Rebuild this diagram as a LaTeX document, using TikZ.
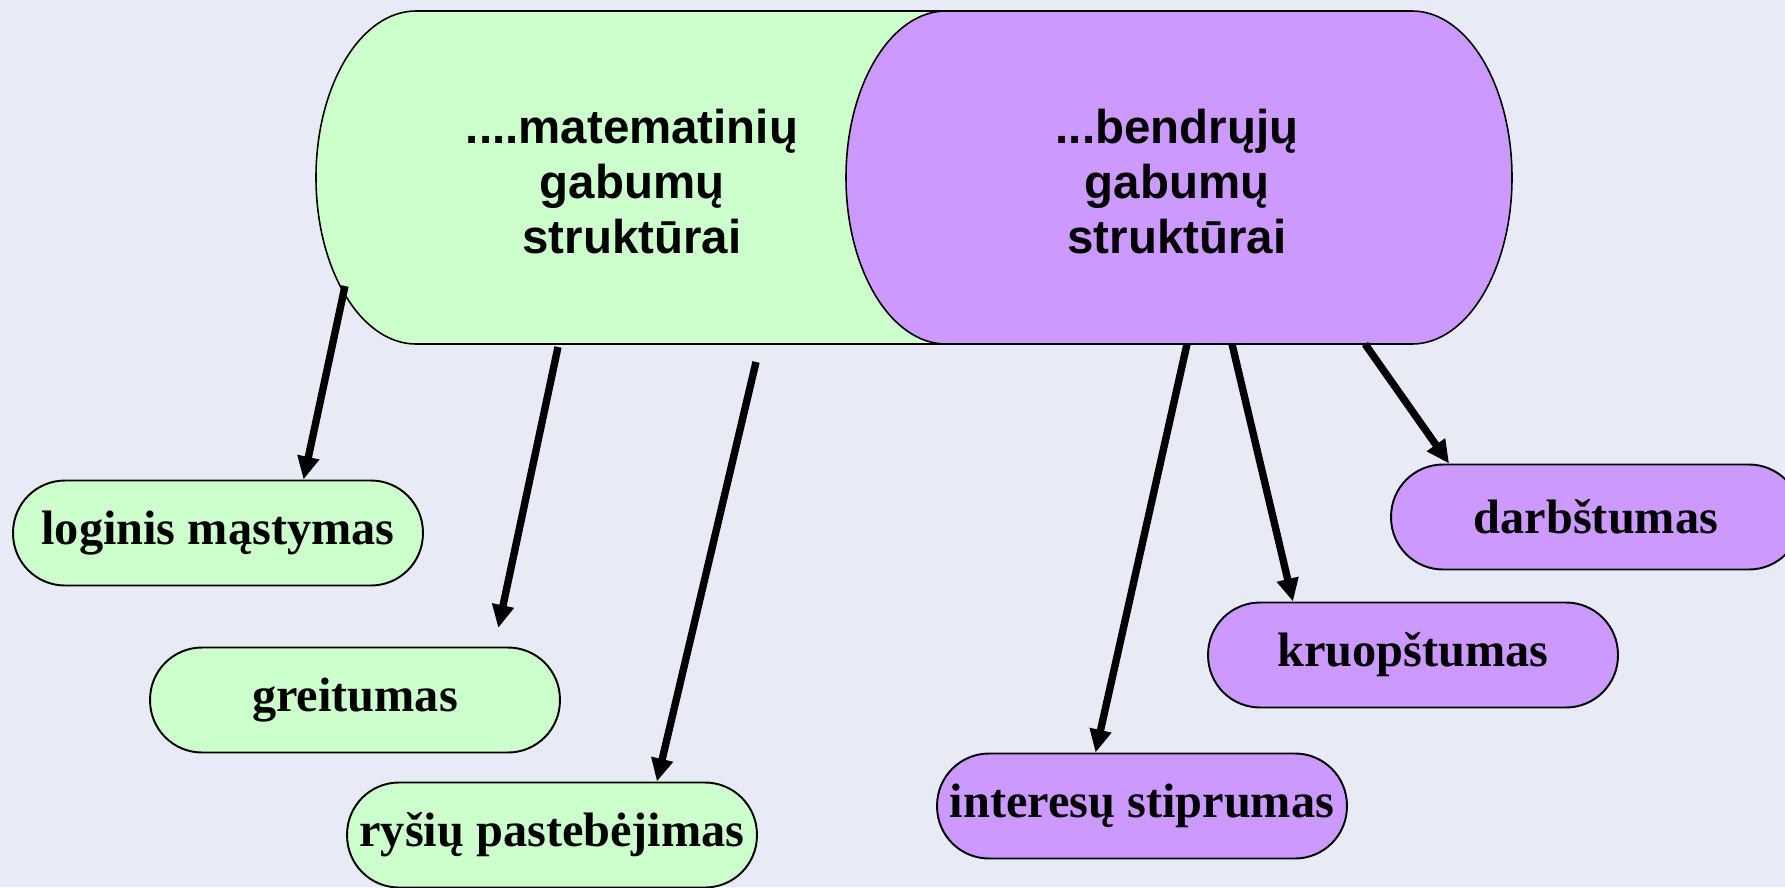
\documentclass[tikz,border=0pt]{standalone}
\usepackage{fontspec}
\setmainfont{Liberation Serif}
\setsansfont{Liberation Sans}
\usetikzlibrary{arrows.meta}
\definecolor{lightgreen}{RGB}{204,255,204}
\definecolor{lilac}{RGB}{204,153,255}
\definecolor{slidebg}{RGB}{232,234,246}

\begin{document}
\begin{tikzpicture}[x=0.02cm,y=-0.02cm]
				\tikzstyle{box} = [rectangle,rounded corners=1.04cm,draw=black,line width=1.1pt,minimum width=8.2cm,minimum height=2.1cm,font=\fontsize{27.5}{31}\selectfont\bfseries]
				\tikzstyle{box2} = [box,fill=lightgreen]
				\tikzstyle{box3} = [box,fill=lilac]
				\tikzstyle{title} = [align=center,font=\fontsize{27}{31.3}\selectfont\sffamily\bfseries]
				\tikzstyle{edge} = [-{Triangle[length=0.46cm,width=0.42cm]},line width=4.2pt]
				\fill[slidebg] (0,0) rectangle (1785,887);
				\useasboundingbox (0,0) rectangle (1785,887);
				\clip (0,0) rectangle (1785,887);
				\draw[fill=lightgreen,line width=0.9pt] (1000,11) -- (416,11) arc[start angle=270,end angle=90,x radius=100,y radius=166.5] -- (1000,344) -- cycle;
				\draw[fill=lilac,line width=0.9pt] (946,11) -- (1412,11) arc[start angle=270,end angle=450,x radius=100,y radius=166.5] -- (946,344) arc[start angle=90,end angle=270,x radius=100,y radius=166.5] -- cycle;
				\node[title] (t1) at (632,182) {....matematinių\\gabumų\\struktūrai};
				\node[title] (t2) at (1177,182) {...bendrųjų\\gabumų\\struktūrai};
				\node[box2] (n1) at (218,533) {loginis mąstymas};
				\node[box2] (n2) at (355,700) {greitumas};
				\node[box2] (n3) at (552,835) {ryšių pastebėjimas};
				\node[box3] (n4) at (1142,806) {interesų stiprumas};
				\node[box3] (n5) at (1413,655) {kruopštumas};
				\node[box3] (n6) at (1596,517) {darbštumas};
				\coordinate (s1) at (345,286);
				\coordinate (s2) at (558,347);
				\coordinate (s3) at (756,362);
				\coordinate (s4) at (1187,344);
				\coordinate (s5) at (1232,344);
				\coordinate (s6) at (1365,344);
				\draw[edge] (s1)--(n1.32);
				\draw[edge,shorten >=0.38cm] (s2)--(n2.21);
				\draw[edge] (s3)--(n3.27.5);
				\draw[edge] (s4)--(n4.131.5);
				\draw[edge] (s5)--(n5.156);
				\draw[edge] (s6)--(n6.160);
				\end{tikzpicture}
\end{document}
